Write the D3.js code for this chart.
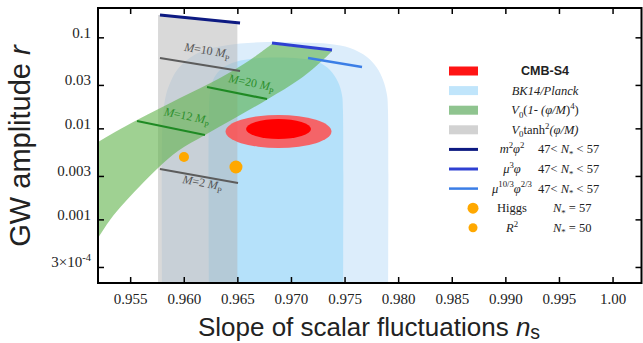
<!DOCTYPE html>
<html>
<head>
<meta charset="utf-8">
<script src="https://cdn.jsdelivr.net/npm/d3@7"></script>
<style>
  html, body { margin: 0; padding: 0; background: #fff; }
  svg { display: block; }
</style>
</head>
<body>
<svg id="chart" width="643" height="343"></svg>
<script>
// ---- data (spectral index n_s, tensor-to-scalar ratio r) ----
const xTicks = [0.955, 0.960, 0.965, 0.970, 0.975, 0.980, 0.985, 0.990, 0.995, 1.00];
const xTickLabels = ["0.955", "0.960", "0.965", "0.970", "0.975", "0.980", "0.985", "0.990", "0.995", "1.00"];
const yTicks = [3e-4, 0.001, 0.003, 0.01, 0.03, 0.1];
const yTickLabels = ["3×10^-4", "0.001", "0.003", "0.01", "0.03", "0.1"];

// BK14/Planck 95% and 68% regions (boundary, left to right)
const bk14Outer = [[0.95797, 1e-4], [0.95797, 0.00745], [0.95806, 0.0140], [0.95834, 0.0233], [0.95872, 0.0315],
  [0.95937, 0.0438], [0.96030, 0.0564], [0.96151, 0.0690], [0.96310, 0.0783], [0.96525, 0.0855],
  [0.96777, 0.0888], [0.97084, 0.0877], [0.97364, 0.0845], [0.97551, 0.0763], [0.97709, 0.0608],
  [0.97803, 0.0460], [0.97859, 0.0340], [0.97896, 0.0233], [0.97905, 0.0159], [0.97905, 1e-4]];
const bk14Inner = [[0.96235, 1e-4], [0.96235, 0.0159], [0.96245, 0.0251], [0.96273, 0.0340], [0.96338, 0.0438],
  [0.96450, 0.0522], [0.96618, 0.0578], [0.96851, 0.0600], [0.97084, 0.0585], [0.97252, 0.0536],
  [0.97364, 0.0438], [0.97439, 0.0323], [0.97476, 0.0233], [0.97485, 0.0159], [0.97485, 1e-4]];

// quartic hilltop band V0(1-(phi/M)^4): upper and lower edges
const hilltopUpper = [[0.95125, 0.00624], [0.95200, 0.00709], [0.95564, 0.01235], [0.95965, 0.02156],
  [0.96338, 0.03573], [0.96618, 0.05636], [0.96823, 0.08446]];
const hilltopLower = [[0.97383, 0.07077], [0.97299, 0.05636], [0.97084, 0.03484], [0.96786, 0.02102],
  [0.96478, 0.01299], [0.96198, 0.00845], [0.95946, 0.00564], [0.95760, 0.00367], [0.95592, 0.00233],
  [0.95452, 0.00155], [0.95312, 0.000985], [0.95200, 0.000624], [0.95125, 0.000461]];

// V0 tanh^2(phi/M) strip, capped by the m^2 phi^2 segment
const tanhBand = [[0.9576, 1e-4], [0.9576, 0.176], [0.9650, 0.1437], [0.9650, 1e-4]];

// monomial potentials, 47 < N* < 57
const m2phi2 = [[0.95778, 0.1759], [0.96525, 0.1437]];
const mu3phi = [[0.96823, 0.0866], [0.97383, 0.0726]];
const mu103phi23 = [[0.97159, 0.0593], [0.97663, 0.0472]];

// lines of constant M
const tanhM10 = [[0.95778, 0.0593], [0.96525, 0.0427]];
const tanhM2 = [[0.95778, 0.00358], [0.96506, 0.00251]];
const hilltopM12 = [[0.95564, 0.01204], [0.96198, 0.00845]];
const hilltopM20 = [[0.96217, 0.02847], [0.96777, 0.02102]];

// CMB-S4 forecast: centre and half-widths (n_s, log10 r)
const cmbS4 = [
  { ns: 0.96884, r: 0.00924, dns: 0.00494, dlog: 0.181 },
  { ns: 0.96884, r: 0.00984, dns: 0.00303, dlog: 0.110 }
];

// model points
const higgs = { ns: 0.96487, r: 0.00376 };
const rSquared = { ns: 0.96002, r: 0.00485 };

// ---- drawing ----
const svg = d3.select("#chart");
const L = 98, R = 641.5, T = 8, B = 283;
const x = d3.scaleLinear().domain([0.952, 1.0027]).range([L, R]);
const y = d3.scaleLog().domain([2e-4, 0.21]).range([B, T]);

const serif = "'Liberation Serif', 'Times New Roman', serif";
const sans = "'Liberation Sans', Arial, Helvetica, sans-serif";

function rich(sel, parts, size) {
  let off = 0;
  parts.forEach(p => {
    const target = p.sup ? -0.42 * size : p.sub ? (p.subShift || 0.28) * size : 0;
    const ts = sel.append("tspan").text(p.t).attr("dy", target - off);
    off = target;
    if (p.sup || p.sub) ts.attr("font-size", size * (p.scale || 0.7));
    if (p.i) ts.attr("font-style", "italic");
    if (p.b) ts.attr("font-weight", "bold");
    if (p.f) ts.attr("font-family", p.f);
  });
}

svg.append("defs").append("clipPath").attr("id", "plotClip")
  .append("rect").attr("x", L).attr("y", T).attr("width", R - L).attr("height", B - T);

const plot = svg.append("g").attr("clip-path", "url(#plotClip)");
const pt = d => [x(d[0]), y(d[1])];
const smooth = d3.line().curve(d3.curveCatmullRom.alpha(0.5));
const straight = d3.line();

// BK14/Planck regions
plot.append("path").attr("d", smooth(bk14Outer.map(pt)) + "Z").attr("fill", "#dcedfb");
plot.append("path").attr("d", smooth(bk14Inner.map(pt)) + "Z").attr("fill", "#b5e1fa");

// tanh strip
plot.append("path").attr("d", straight(tanhBand.map(pt)) + "Z")
  .attr("fill", "#b3b3b3").attr("fill-opacity", 0.5);

// hilltop band
const upperPath = smooth(hilltopUpper.map(pt));
const lowerPath = smooth(hilltopLower.map(pt));
plot.append("path").attr("d", upperPath + "L" + lowerPath.slice(1) + "Z")
  .attr("fill", "#5fb24a").attr("fill-opacity", 0.6);

// CMB-S4 ellipses
const ellColors = [{ fill: "#ff4d4d", op: 0.85 }, { fill: "#ff0000", op: 1 }];
cmbS4.forEach((e, i) => {
  plot.append("ellipse")
    .attr("cx", x(e.ns)).attr("cy", y(e.r))
    .attr("rx", x(e.ns + e.dns) - x(e.ns))
    .attr("ry", y(e.r) - y(e.r * Math.pow(10, e.dlog)))
    .attr("fill", ellColors[i].fill).attr("fill-opacity", ellColors[i].op);
});

// segments
const segs = [
  { d: tanhM10, c: "#5c5c5c", w: 2 },
  { d: tanhM2, c: "#5c5c5c", w: 2 },
  { d: hilltopM12, c: "#1f8a24", w: 2.2 },
  { d: hilltopM20, c: "#1f8a24", w: 2.2 },
  { d: m2phi2, c: "#0d1a82", w: 3 },
  { d: mu3phi, c: "#2f40d2", w: 3 },
  { d: mu103phi23, c: "#3b7ee6", w: 2.5 }
];
segs.forEach(s => {
  plot.append("path").attr("d", straight(s.d.map(pt)))
    .attr("stroke", s.c).attr("stroke-width", s.w).attr("fill", "none");
});

// points
plot.append("circle").attr("cx", x(higgs.ns)).attr("cy", y(higgs.r)).attr("r", 6.5).attr("fill", "#ffa800");
plot.append("circle").attr("cx", x(rSquared.ns)).attr("cy", y(rSquared.r)).attr("r", 5).attr("fill", "#ffa800");

// labels on constant-M lines
function lineLabel(seg, t, off, mass, color) {
  const [p0, p1] = seg.map(pt);
  const ang = Math.atan2(p1[1] - p0[1], p1[0] - p0[0]);
  const cx = p0[0] + t * (p1[0] - p0[0]) - off * Math.sin(ang);
  const cy = p0[1] + t * (p1[1] - p0[1]) + off * Math.cos(ang);
  const txt = svg.append("text")
    .attr("transform", `translate(${cx},${cy}) rotate(${ang * 180 / Math.PI})`)
    .attr("text-anchor", "middle").attr("dy", "0.35em")
    .attr("font-family", serif).attr("font-size", 12).attr("fill", color);
  rich(txt, [{ t: "M", i: 1 }, { t: "=" + mass + " " }, { t: "M", i: 1 }, { t: "P", sub: 1 }], 12);
}
lineLabel(tanhM10, 0.56, -11, 10, "#555");
lineLabel(tanhM2, 0.56, 10, 2, "#555");
lineLabel(hilltopM12, 0.69, -11, 12, "#2c8f2c");
lineLabel(hilltopM20, 0.70, -9, 20, "#2c8f2c");

// ---- axes ----
const axisStyle = g => {
  g.select(".domain").remove();
  g.selectAll(".tick line").attr("stroke", "#000").attr("stroke-width", 1.5);
};
const bottomAxis = svg.append("g").attr("transform", `translate(0,${B})`)
  .call(d3.axisBottom(x).tickValues(xTicks).tickSize(-6).tickPadding(10)
    .tickFormat((d, i) => xTickLabels[i]))
  .call(axisStyle);
bottomAxis.selectAll("text").attr("font-family", serif).attr("font-size", 15).attr("fill", "#222");

svg.append("g").attr("transform", `translate(0,${T})`)
  .call(d3.axisTop(x).tickValues(xTicks).tickSize(-6).tickFormat(""))
  .call(axisStyle);

const leftAxis = svg.append("g").attr("transform", `translate(${L},0)`)
  .call(d3.axisLeft(y).tickValues(yTicks).tickSize(-6).tickPadding(7).tickFormat(""))
  .call(axisStyle);
leftAxis.selectAll(".tick text").each(function (d, i) {
  const s = yTickLabels[i].split("^");
  const t = d3.select(this).attr("font-family", serif).attr("font-size", 15).attr("fill", "#222");
  const parts = [{ t: s[0] }];
  if (s[1]) parts.push({ t: s[1], sup: 1 });
  rich(t, parts, 15);
});

svg.append("g").attr("transform", `translate(${R},0)`)
  .call(d3.axisRight(y).tickValues(yTicks).tickSize(-6).tickFormat(""))
  .call(axisStyle);

// frame
svg.append("rect").attr("x", L).attr("y", T).attr("width", R - L).attr("height", B - T)
  .attr("fill", "none").attr("stroke", "#000").attr("stroke-width", 2);

// axis titles
const xt = svg.append("text").attr("x", 369).attr("y", 336).attr("text-anchor", "middle")
  .attr("font-family", sans).attr("font-size", 26).attr("fill", "#222");
rich(xt, [{ t: "Slope of scalar fluctuations " }, { t: "n", i: 1 }, { t: "s", sub: 1, subShift: 0.1, scale: 0.75 }], 26);

const yt = svg.append("text").attr("transform", "translate(30,146) rotate(-90)").attr("text-anchor", "middle")
  .attr("font-family", sans).attr("font-size", 29).attr("fill", "#222");
rich(yt, [{ t: "GW amplitude " }, { t: "r", i: 1 }], 29);

// ---- legend ----
const nStar = v => [{ t: "N", i: 1 }, { t: "*", sub: 1 }, { t: " " + v }];
const legendRows = [
  { kind: "patch", color: "#ff1414", label: [{ t: "CMB-S4", b: 1, f: sans }] },
  { kind: "patch", color: "#c0e5fb", label: [{ t: "BK14/Planck", i: 1 }] },
  { kind: "patch", color: "#8fc48f", label: [{ t: "V", i: 1 }, { t: "0", sub: 1 }, { t: "(" }, { t: "1- (", i: 1 }, { t: "φ/M", i: 1 }, { t: ")" }, { t: "4", sup: 1 }, { t: ")" }] },
  { kind: "patch", color: "#d2d2d2", label: [{ t: "V", i: 1 }, { t: "0", sub: 1 }, { t: "tanh" }, { t: "2", sup: 1 }, { t: "(φ/M)", i: 1 }] },
  { kind: "line", color: "#0d1a82", w: 3, label: [{ t: "m", i: 1 }, { t: "2", sup: 1 }, { t: "φ", i: 1 }, { t: "2", sup: 1 }],
    note: [{ t: "47< " }].concat(nStar("< 57")) },
  { kind: "line", color: "#2f40d2", w: 3, label: [{ t: "μ", i: 1 }, { t: "3", sup: 1 }, { t: "φ", i: 1 }],
    note: [{ t: "47< " }].concat(nStar("< 57")) },
  { kind: "line", color: "#3b7ee6", w: 2.5, label: [{ t: "μ", i: 1 }, { t: "10/3", sup: 1 }, { t: "φ", i: 1 }, { t: "2/3", sup: 1 }],
    note: [{ t: "47< " }].concat(nStar("< 57")) },
  { kind: "dot", r: 5.5, label: [{ t: "Higgs" }], note: nStar("= 57") },
  { kind: "dot", r: 4.5, label: [{ t: "R", i: 1 }, { t: "2", sup: 1 }], note: nStar("= 50") }
];
const lg = svg.append("g");
legendRows.forEach((row, i) => {
  const cy = 71 + i * 19.6;
  if (row.kind === "patch") {
    lg.append("rect").attr("x", 449).attr("y", cy - 4.5).attr("width", 29).attr("height", 9).attr("fill", row.color);
  } else if (row.kind === "line") {
    lg.append("line").attr("x1", 449).attr("x2", 478).attr("y1", cy).attr("y2", cy)
      .attr("stroke", row.color).attr("stroke-width", row.w);
  } else {
    lg.append("circle").attr("cx", 473).attr("cy", cy).attr("r", row.r).attr("fill", "#ffa800");
  }
  const lx = row.note ? 512 : 545;
  const t = lg.append("text").attr("x", lx).attr("y", cy + 4).attr("text-anchor", "middle")
    .attr("font-family", serif).attr("font-size", 12.5).attr("fill", "#222");
  rich(t, row.label, 12.5);
  if (row.note) {
    const n = lg.append("text").attr("x", row.kind === "dot" ? 553 : 538).attr("y", cy + 4)
      .attr("font-family", serif).attr("font-size", 12.5).attr("fill", "#222");
    rich(n, row.note, 12.5);
  }
});
</script>
</body>
</html>
